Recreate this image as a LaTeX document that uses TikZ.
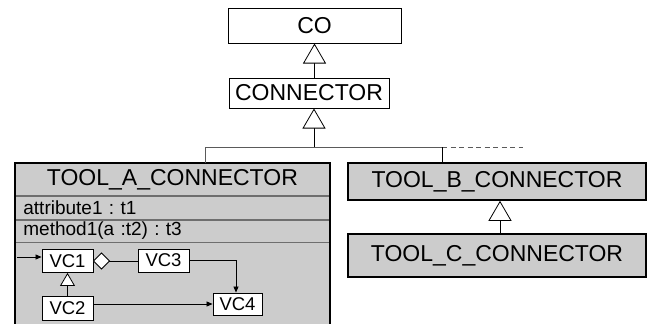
\documentclass[tikz,border=0pt]{standalone}
\usepackage{fontspec}
\setmainfont{Liberation Sans}
\usetikzlibrary{arrows.meta}
\definecolor{boxgray}{RGB}{204,204,204}
\definecolor{rulegray}{RGB}{110,110,110}
\definecolor{treegray}{RGB}{90,90,90}
\frenchspacing

\begin{document}
\begin{tikzpicture}[x=1pt,y=-1pt,
  big/.style={font=\fontsize{23}{27}\selectfont},
  plainbox/.style={draw=black,line width=1pt,fill=white,inner sep=0pt,big},
  toolbox/.style={draw=black,line width=1.6pt,fill=boxgray,inner sep=0pt,big},
  row/.style={draw=rulegray,line width=0.8pt,fill=boxgray,inner xsep=8pt,inner ysep=0pt,
    anchor=north west,text width=298pt,align=left,font=\fontsize{19}{22}\selectfont},
  vc/.style={draw=black,line width=0.9pt,fill=white,inner sep=0pt,font=\fontsize{18.5}{21}\selectfont},
  inherit/.style={draw=black,line width=0.8pt,-{Triangle[length=20pt,width=23pt,fill=white]}},
  smallinherit/.style={draw=black,line width=0.8pt,-{Triangle[length=13pt,width=15pt,fill=white]}},
  assoc/.style={draw=black,line width=0.8pt,-{Triangle[length=6pt,width=5pt]}},
  aggmark/.style={draw=black,line width=0.9pt,fill=white,line join=miter},
  tree/.style={draw=treegray,line width=0.8pt}]
\useasboundingbox (0,0) rectangle (657,324);

% upper hierarchy
\node[plainbox,minimum width=173pt,minimum height=35pt] (co) at (314.5,25.5) {CO};
\node[plainbox,minimum width=160pt,minimum height=30pt] (conn) at (309,93) {CONNECTOR};
\draw[inherit] (conn.north -| co.south) -- (co.south);

% branching line below CONNECTOR
\coordinate (j) at (314,147);
\coordinate (jA) at (205,147);
\coordinate (jB) at (442,147);
\coordinate (jEnd) at (523,147);
\draw[inherit] (j) -- (conn.south -| j);
\draw[tree] (jA) -- (jB);
\draw[tree,dash pattern=on 5pt off 3.5pt] (jB) -- (jEnd);

% TOOL_A_CONNECTOR class with its compartments
\node[row,minimum height=32pt,align=center,big] (toolA) at (15,163) {TOOL\_A\_CONNECTOR};
\node[row,minimum height=23pt] (attrs) at (toolA.south west) {attribute1 : t1};
\node[row,minimum height=22pt] (ops) at (attrs.south west) {method1(a :t2) : t3};
\node[row,minimum height=95pt] (body) at (ops.south west) {};
\draw[line width=1.6pt] (body.south west) -- (toolA.north west) -- (toolA.north east) -- (body.south east);
\draw[tree] (jA |- toolA.north) -- (jA);

% inner structure
\node[vc,minimum width=51pt,minimum height=23pt] (vc1) at (67.5,261) {VC1};
\node[vc,minimum width=51pt,minimum height=23pt] (vc3) at (163.5,260.5) {VC3};
\node[vc,minimum width=49pt,minimum height=22pt] (vc4) at (237.5,304) {VC4};
\node[vc,minimum width=51pt,minimum height=24pt] (vc2) at (67.5,308) {VC2};
% aggregation diamond on VC1
\draw[aggmark] (vc1.east) -- ++(8,-8) -- ++(8,8) coordinate (agg) -- ++(-8,8) -- cycle;
\coordinate (inA) at (17,257);
\draw[assoc] (inA) -- (inA -| vc1.west);
\draw[line width=0.8pt] (agg) -- (agg -| vc3.west);
\draw[assoc] (vc3.east) -| ([xshift=-1.5pt]vc4.north);
\draw[assoc] (vc4.west -| vc2.east) -- (vc4.west);
\draw[smallinherit] (vc2.north) -- (vc1.south);

% TOOL_B and TOOL_C
\node[toolbox,minimum width=298pt,minimum height=37pt] (toolB) at (497,181.5) {TOOL\_B\_CONNECTOR};
\node[toolbox,minimum width=298pt,minimum height=43pt] (toolC) at (497,255.5) {TOOL\_C\_CONNECTOR};
\draw[line width=0.9pt] (jB |- toolB.north) -- (jB);
\draw[inherit] ([xshift=3pt]toolC.north) -- ([xshift=3pt]toolB.south);
\end{tikzpicture}
\end{document}
